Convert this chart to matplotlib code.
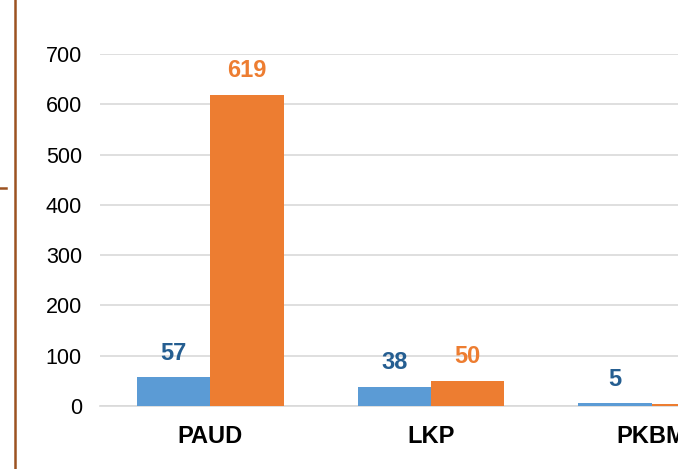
import matplotlib.pyplot as plt
import numpy as np

# Data
categories = ["PAUD", "LKP", "PKBM"]
series_a = [57, 38, 5]
series_b = [619, 50, 4]

plt.rcParams['font.family'] = ['Liberation Sans', 'DejaVu Sans']

fig = plt.figure(figsize=(6.78, 4.69), dpi=100)
W, H = 678, 469
# axes extends past the right edge (chart is cropped)
ax = fig.add_axes([100 / W, 1 - 406 / H, (762 - 100) / W, (406 - 54) / H])

x = np.arange(len(categories))
w = 0.333
bars_a = ax.bar(x - w / 2, series_a, w, color='#5B9BD5', zorder=3)
bars_b = ax.bar(x + w / 2, series_b, w, color='#ED7D31', zorder=3)

for b, v in zip(bars_a, series_a):
    ax.text(b.get_x() + b.get_width() / 2, v + 25, str(v), ha='center', va='bottom',
            fontsize=17, fontweight='bold', color='#255E91')
for b, v in zip(bars_b, series_b):
    ax.text(b.get_x() + b.get_width() / 2, v + 25, str(v), ha='center', va='bottom',
            fontsize=17, fontweight='bold', color='#ED7D31')

ax.set_xlim(-0.5, 2.5)
ax.set_ylim(0, 700)
ax.set_yticks(range(0, 701, 100))
ax.set_xticks(x)
ax.set_xticklabels(categories, fontsize=17, fontweight='bold')
ax.tick_params(axis='x', length=0, pad=13.5)
ax.tick_params(axis='y', length=0, labelsize=15.5, pad=13)
ax.grid(axis='y', color='#D9D9D9', linewidth=1.2, zorder=0)
for s in ['top', 'right', 'left']:
    ax.spines[s].set_visible(False)
ax.spines['bottom'].set_color('#D9D9D9')
ax.spines['bottom'].set_linewidth(1.2)

# brown frame line on the left
fig.add_artist(plt.Line2D([15 / W, 15 / W], [0, 1], color='#9C5221', linewidth=1.8))
fig.add_artist(plt.Line2D([0, 6 / W], [1 - 188 / H, 1 - 188 / H], color='#9C5221', linewidth=1.8))

fig.savefig('out.png', dpi=100)
